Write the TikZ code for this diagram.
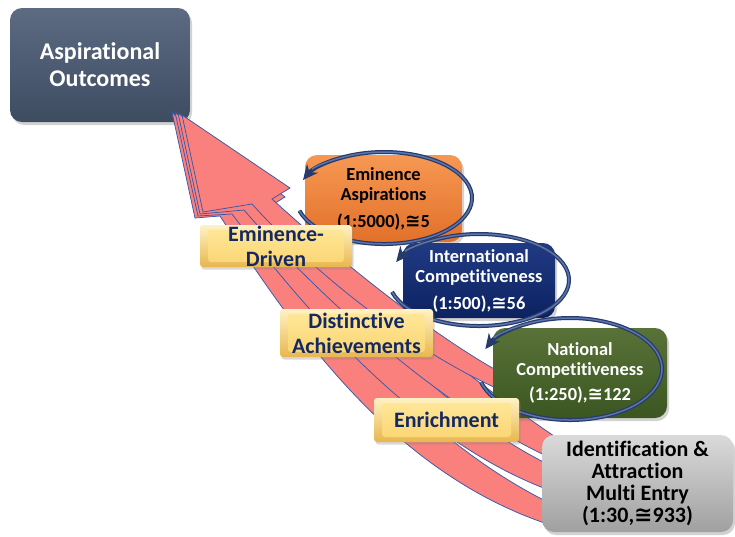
\documentclass[tikz,border=0pt]{standalone}
\usepackage{fontspec}
\setmainfont{Carlito}[Ligatures=NoCommon]
\newfontfamily\symfont{DejaVu Sans}
\usetikzlibrary{shadows,arrows.meta,calc}

\definecolor{flowpink}{RGB}{250,128,125}
\definecolor{flowedge}{RGB}{58,88,168}
\definecolor{ringdark}{RGB}{38,58,108}
\definecolor{ringlight}{RGB}{92,116,172}
\definecolor{tagtext}{RGB}{20,40,100}
\definecolor{slatetop}{RGB}{92,107,130}
\definecolor{slatebot}{RGB}{62,76,98}
\definecolor{orangetop}{RGB}{246,152,82}
\definecolor{orangebot}{RGB}{226,112,42}
\definecolor{navytop}{RGB}{32,58,132}
\definecolor{navybot}{RGB}{12,34,96}
\definecolor{olivetop}{RGB}{88,114,56}
\definecolor{olivebot}{RGB}{60,86,34}
\definecolor{greytop}{RGB}{218,218,218}
\definecolor{greybot}{RGB}{160,160,160}
\definecolor{tagrimtop}{RGB}{255,242,196}
\definecolor{tagrimbot}{RGB}{232,182,78}
\definecolor{tagfacetop}{RGB}{255,232,156}
\definecolor{tagfacebot}{RGB}{250,212,112}

\newcommand{\congsign}{{\symfont\bfseries ≅}}

\tikzset{
  panel/.style={rounded corners=12pt, inner sep=0pt, align=center, font=\bfseries,
    drop shadow={shadow xshift=2pt, shadow yshift=-3pt, opacity=0.35}},
  tag/.style={rounded corners=3pt, inner sep=0pt, align=center, text=tagtext,
    top color=tagrimtop, bottom color=tagrimbot,
    font=\fontsize{22}{25}\selectfont\bfseries,
    drop shadow={shadow xshift=1.5pt, shadow yshift=-2.5pt, opacity=0.3},
    path picture={\shade[top color=tagfacetop, bottom color=tagfacebot]
      ($(path picture bounding box.south west)+(8pt,5pt)$) rectangle
      ($(path picture bounding box.north east)+(-8pt,-5pt)$);}},
  flow/.style={fill=flowpink, draw=flowedge, line width=0.75pt, line join=miter},
  ring/.style={draw=ringdark, line width=4pt, -{Stealth[length=15pt,width=14pt]}},
  ringshine/.style={draw=ringlight, line width=1.5pt, shorten >=14pt},
  leveltext/.style={font=\fontsize{18.4}{20}\selectfont\bfseries},
}

\begin{document}
\begin{tikzpicture}[x=1pt,y=-1pt]
\useasboundingbox (0,0) rectangle (735,536);
\fill[white] (0,0) rectangle (735,536);

% goal box
\node[panel, top color=slatetop, bottom color=slatebot, text=white,
      minimum width=180pt, minimum height=114pt,
      font=\fontsize{24}{27}\selectfont\bfseries] (goal) at (100,65)
      {Aspirational\\Outcomes};

% the four curved pathway arrows, outermost first
\path[flow] (172,112) -- (266,214) -- (255,214)
  .. controls (330,325) and (425,445) .. (560,508) -- (560,528)
  .. controls (400,480) and (300,340) .. (220,216) -- (195,218) -- cycle;
\path[flow] (175,112) -- (277,212) -- (268,213)
  .. controls (350,310) and (450,420) .. (560,470) -- (560,494)
  .. controls (430,450) and (320,330) .. (232,214) -- (198,216) -- cycle;
\path[flow] (178,113) -- (285,197) -- (272,205)
  .. controls (360,290) and (470,380) .. (560,440) -- (560,462)
  .. controls (460,420) and (330,310) .. (244,210) -- (200,214) -- cycle;
\path[flow] (182,115) -- (290,188) -- (272,199)
  .. controls (350,270) and (440,340) .. (505,375) -- (505,392)
  .. controls (430,360) and (330,290) .. (252,204) -- (203,212) -- cycle;

% level boxes
\node[panel, leveltext, top color=orangetop, bottom color=orangebot, text=black,
      minimum width=157pt, minimum height=87pt] (eminence) at (383.5,198.5)
      {Eminence\\Aspirations\\[7pt](1:5000),\congsign5};
\node[panel, leveltext, top color=navytop, bottom color=navybot, text=white,
      minimum width=152pt, minimum height=75pt] (intl) at (479,280.5)
      {International\\Competitiveness\\[7pt](1:500),\congsign56};
\node[panel, leveltext, top color=olivetop, bottom color=olivebot, text=white,
      minimum width=174pt, minimum height=90pt] (natl) at (580,373)
      {National\\Competitiveness\\[5pt](1:250),\congsign122};
\node[panel, top color=greytop, bottom color=greybot, text=black,
      minimum width=191pt, minimum height=97pt,
      font=\fontsize{22}{22}\selectfont\bfseries] (entry) at (637.5,483.5)
      {Identification \&\\Attraction\\Multi Entry\\(1:30,\congsign933)};

% cycle rings around the level boxes
\draw[ring] (384,198) ++(164:88 and 46)
  arc[start angle=164, end angle=-157, x radius=88, y radius=46];
\draw[ringshine] (384,198) ++(164:88 and 46)
  arc[start angle=164, end angle=-157, x radius=88, y radius=46];
\draw[ring] (479,280) ++(165:90 and 46)
  arc[start angle=165, end angle=-157, x radius=90, y radius=46];
\draw[ringshine] (479,280) ++(165:90 and 46)
  arc[start angle=165, end angle=-157, x radius=90, y radius=46];
\draw[ring] (570,369) ++(165:92 and 51)
  arc[start angle=165, end angle=-157, x radius=92, y radius=51];
\draw[ringshine] (570,369) ++(165:92 and 51)
  arc[start angle=165, end angle=-157, x radius=92, y radius=51];

% pathway labels
\node[tag, minimum width=152pt, minimum height=42pt] (driven) at (276,246)
  {Eminence-\\Driven};
\node[tag, minimum width=153pt, minimum height=48pt] (distinct) at (356.5,333)
  {Distinctive\\Achievements};
\node[tag, minimum width=145pt, minimum height=44pt] (enrich) at (446.5,420)
  {Enrichment};
\end{tikzpicture}
\end{document}
